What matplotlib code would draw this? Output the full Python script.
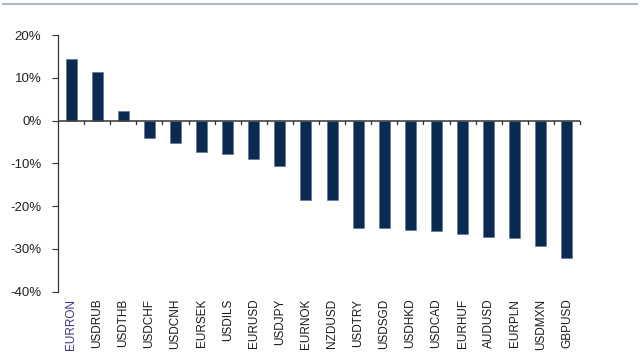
import numpy as np
import matplotlib
matplotlib.use('Agg')
import matplotlib.pyplot as plt
from matplotlib.ticker import FuncFormatter, FixedLocator

# Data (percent change)
pairs = ['EURRON', 'USDRUB', 'USDTHB', 'USDCHF', 'USDCNH', 'EURSEK', 'USDILS',
         'EURUSD', 'USDJPY', 'EURNOK', 'NZDUSD', 'USDTRY', 'USDSGD', 'USDHKD',
         'USDCAD', 'EURHUF', 'AUDUSD', 'EURPLN', 'USDMXN', 'GBPUSD']
changes = [14.3, 11.4, 2.2, -4.0, -5.2, -7.4, -7.7,
           -9.0, -10.6, -18.6, -18.6, -25.2, -25.2, -25.6,
           -25.9, -26.5, -27.1, -27.4, -29.3, -32.1]
y_ticks = [-40, -30, -20, -10, 0, 10, 20]

plt.rcParams['font.family'] = ['Liberation Sans', 'DejaVu Sans']

fig = plt.figure(figsize=(6.4, 3.6), dpi=100)
ax = fig.add_axes([58 / 640, 1 - 291.7 / 360, 522 / 640, 256.7 / 360])

x = np.arange(len(pairs))
ax.bar(x, changes, width=0.42, color='#0b2a52', edgecolor='#5a7090', linewidth=0.4, zorder=2)

ax.set_xlim(-0.5, len(pairs) - 0.5)
ax.set_ylim(-40, 20)
ax.set_yticks(y_ticks)
ax.yaxis.set_major_formatter(FuncFormatter(lambda v, p: '%d%%' % v))
ax.tick_params(axis='y', length=4, width=0.8, color='#333333', labelsize=9.5,
               labelcolor='#222222', pad=8)

# category axis drawn at zero, ticks between categories
for s in ['top', 'right', 'bottom']:
    ax.spines[s].set_visible(False)
ax.spines['left'].set_color('#333333')
ax.spines['left'].set_linewidth(0.9)
ax.axhline(0, color='#444444', linewidth=1.2, zorder=3)
ax.xaxis.set_major_locator(FixedLocator(x))
ax.set_xticklabels([])
ax.tick_params(axis='x', length=0)
for b in np.arange(len(pairs)) + 0.5:
    ax.plot([b, b], [0, -0.9], color='#333333', linewidth=0.9, zorder=3, clip_on=False)

for i, name in enumerate(pairs):
    ax.annotate(name, xy=(i, -40), xycoords='data', xytext=(0, -5),
                textcoords='offset points', rotation=90, ha='center', va='top',
                fontsize=8.5, color='#3a3580' if i == 0 else '#1a1a1a',
                annotation_clip=False)

# rule at the top of the page
fig.add_artist(plt.Line2D([3 / 640, 637 / 640], [1 - 4 / 360, 1 - 4 / 360],
                          color='#a9b8cc', linewidth=1.5))

fig.savefig('out.png', dpi=100)
